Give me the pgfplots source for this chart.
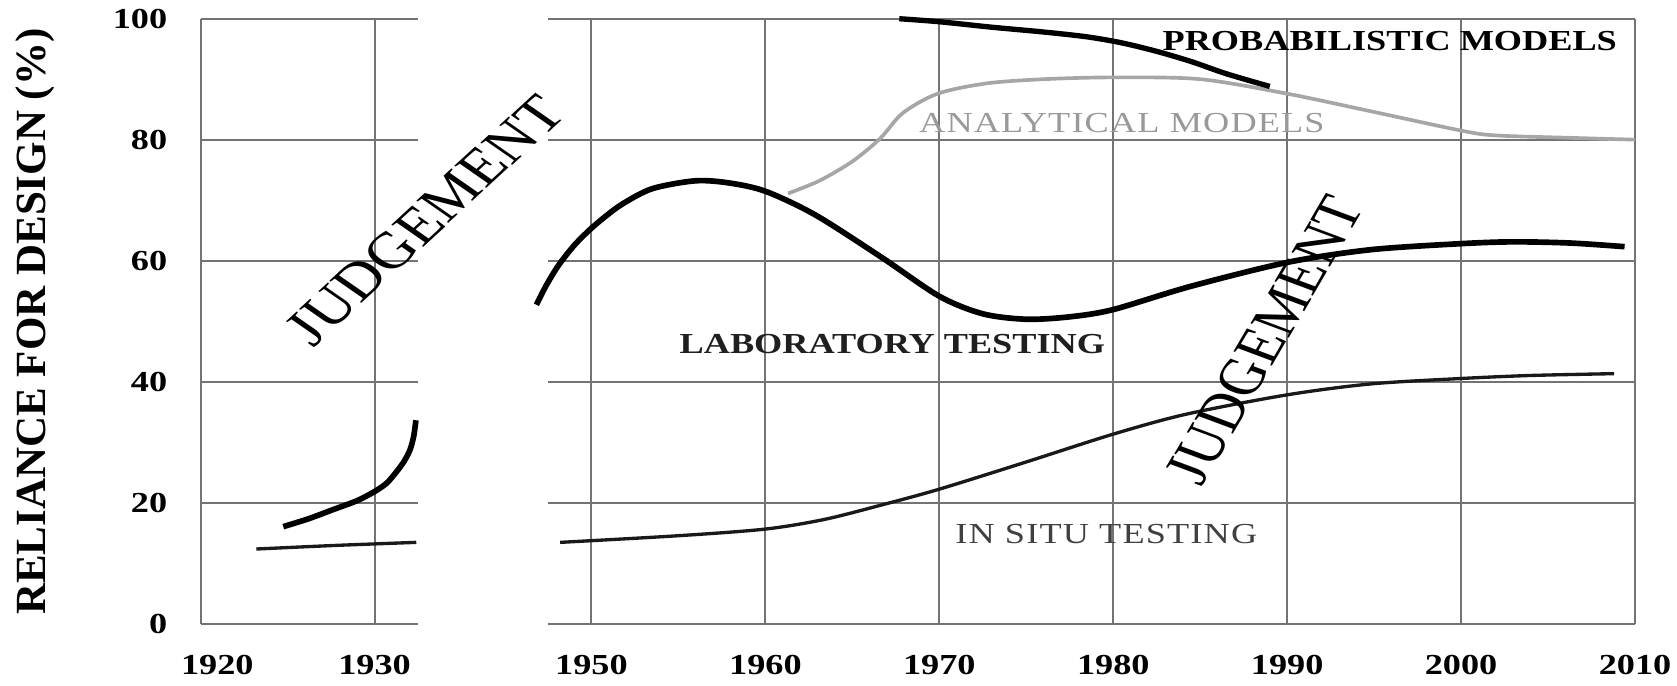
\documentclass[border=0pt]{standalone}
\usepackage{pgfplots}
\pgfplotsset{compat=1.18}
\usepackage{fontspec}
\setmainfont{Liberation Serif}
\newfontfamily\wide[FakeStretch=1.25]{Liberation Serif}
\newfontfamily\widels[FakeStretch=1.25,LetterSpace=4]{Liberation Serif}
\pgfplotsset{
  brk/.style={
    scale only axis, height=181.4pt, ymin=0, ymax=100,
    ytick={0,20,40,60,80,100},
    grid=major, grid style={color=black!55, line width=0.6pt},
    major tick length=0pt, tick style={draw=none},
    axis line style={draw=none},
    clip=false,
    /pgf/number format/1000 sep={},
    /pgf/number format/assume math mode=true,
    ticklabel style={font=\fontsize{8.7}{10}\wide\bfseries},
    xticklabel style={anchor=north, yshift=-5.8pt},
    yticklabel style={anchor=east, xshift=-6.5pt},
  },
  lab/.style={black, line width=1.7pt, smooth},
  ins/.style={black!90, line width=1.0pt, smooth},
}
\begin{document}
\begin{tikzpicture}
\useasboundingbox (0,0) rectangle (503.1pt,205.8pt);
% left panel
\begin{axis}[brk, at={(60.2pt,18.6pt)}, anchor=south west, width=65.2pt,
  xmin=1920, xmax=1932.5, xtick={1920,1930}, xticklabels={\hspace*{10pt}1920,1930},
  ylabel={RELIANCE FOR DESIGN (\%)},
  ylabel style={at={(axis description cs:-0.7625,0.5)}, anchor=center, font=\fontsize{12.9}{14}\selectfont\bfseries}]
\addplot[lab] coordinates {(1924.75,16.1) (1926.2,17.4) (1927.6,18.9) (1929,20.4) (1930,21.9) (1930.7,23.3) (1931.27,25.2) (1931.7,26.9) (1932.04,28.8) (1932.25,31.0) (1932.38,33.7)};
\addplot[ins] coordinates {(1923.2,12.4) (1927.8,13.0) (1932.4,13.5)};
\node[font=\fontsize{15.5}{18}\selectfont, xscale=1.25, rotate=49] at (axis cs:1932.9,66.8) {JUDGEMENT};
\end{axis}
% right panel
\begin{axis}[brk, at={(164.4pt,18.6pt)}, anchor=south west, width=326.1pt,
  xmin=1947.5, xmax=2010, xtick={1950,1960,1970,1980,1990,2000,2010},
  yticklabels={}]
\addplot[black!35, line width=1.1pt, smooth] coordinates {(1961.3,71.2) (1963.1,73.3) (1965.0,76.5) (1966.6,80.3) (1967.9,84.5) (1969.9,87.7) (1972.7,89.4) (1976,90.1) (1980,90.4) (1985,90.1) (1990,87.7) (1994.8,84.8) (2000,81.6) (2002,80.8) (2006.3,80.4) (2010,80.1)};
\addplot[black, line width=1.6pt, smooth] coordinates {(1967.7,100.1) (1970,99.6) (1973,98.7) (1976,97.9) (1978.5,97.1) (1980.5,96.1) (1982.5,94.7) (1984.5,93.0) (1986.5,91.0) (1989,88.9)};
\addplot[lab] coordinates {(1946.83,52.8) (1947.4,56.0) (1948.1,59.3) (1949.0,62.6) (1949.9,65.2) (1950.8,67.4) (1951.8,69.5) (1953.5,72.0) (1956,73.3) (1958,72.9) (1960.06,71.5) (1962.9,67.6) (1966.7,60.6) (1970,54.2) (1972.5,51.3) (1975,50.4) (1977.5,50.8) (1980,52.0) (1984.4,55.8) (1990,59.8) (1994.8,61.9) (2000,62.9) (2003,63.2) (2006.3,63.0) (2009.4,62.4)};
\addplot[ins] coordinates {(1948.2,13.5) (1955,14.6) (1960,15.7) (1963.4,17.3) (1966.7,19.7) (1970,22.3) (1975,26.8) (1980,31.4) (1984.2,34.7) (1990,37.9) (1994.8,39.7) (2000,40.6) (2004,41.1) (2008.8,41.4)};
\node[font=\fontsize{8.7}{10}\wide\bfseries] at (axis cs:1995.9,96.4) {PROBABILISTIC MODELS};
\node[font=\fontsize{8.7}{10}\widels, text=black!40] at (axis cs:1980.5,82.8) {ANALYTICAL MODELS};
\node[font=\fontsize{8.7}{10}\wide\bfseries, text=black!88] at (axis cs:1967.3,46.3) {LABORATORY TESTING};
\node[font=\fontsize{8.7}{10}\widels, text=black!75] at (axis cs:1979.6,14.8) {IN SITU TESTING};
\node[font=\fontsize{15.5}{18}\selectfont, xscale=1.25, rotate=65] at (axis cs:1988.7,47) {JUDGEMENT};
\end{axis}
\end{tikzpicture}
\end{document}
